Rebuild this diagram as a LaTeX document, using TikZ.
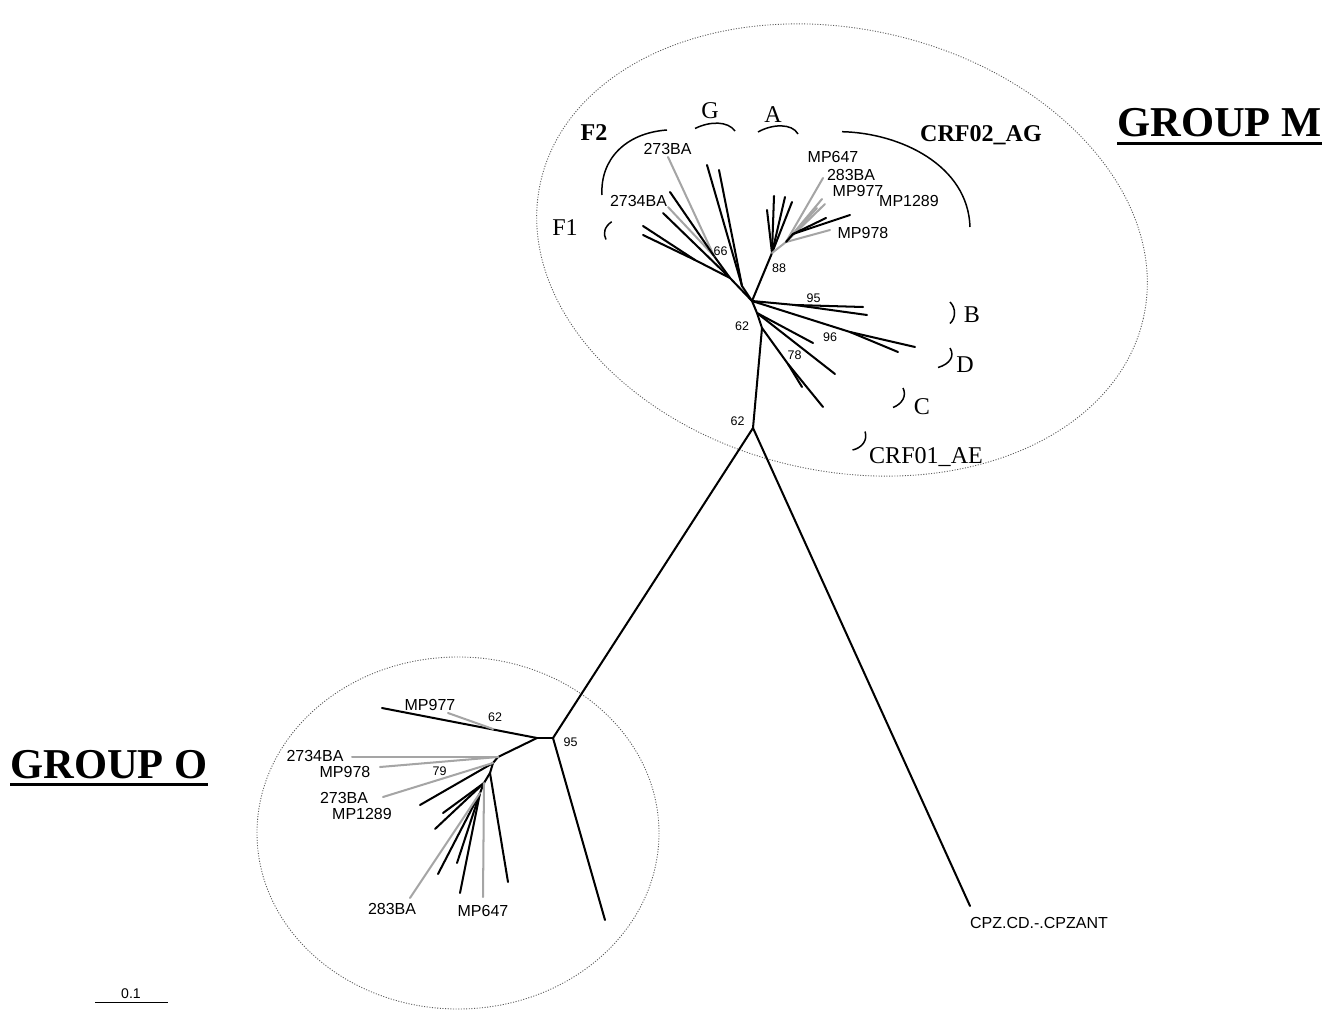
\documentclass[tikz,border=0pt]{standalone}
\usepackage{fontspec}
\setmainfont{Liberation Serif}
\setsansfont{Liberation Sans}
\definecolor{lgray}{RGB}{165,165,165}
\definecolor{ovalc}{RGB}{90,90,90}
\begin{document}
\begin{tikzpicture}[x=0.02cm,y=-0.02cm,
  br/.style={line width=1.15pt, line cap=round},
  gb/.style={line width=1.15pt, draw=lgray, line cap=round},
  brk/.style={line width=0.85pt},
  lab/.style={font=\sffamily\fontsize{9.1}{10}\selectfont, inner sep=0pt, text height=6.5pt, text depth=0pt},
  num/.style={font=\sffamily\fontsize{7.1}{8}\selectfont, inner sep=0pt, text height=5.1pt, text depth=0pt},
  clade/.style={font=\fontsize{13.7}{15}\selectfont, inner sep=0pt, text height=9.05pt, text depth=0pt},
  bclade/.style={font=\bfseries\fontsize{13.7}{15}\selectfont, inner sep=0pt, text height=9.2pt, text depth=0pt},
  grp/.style={font=\bfseries\fontsize{24.2}{28}\selectfont, inner sep=0pt, text height=16pt, text depth=0pt},
  oval/.style={draw=ovalc, line width=0.5pt, dash pattern=on 0.6pt off 0.9pt}
]
\useasboundingbox (0,0) rectangle (1335,1010);

% ---------------- ellipses ----------------
\draw[oval, rotate around={-12.75:(842,250)}] (842,250) ellipse [x radius=309, y radius=221];
\draw[oval] (458,833) ellipse [x radius=201, y radius=176];

% ---------------- backbone ----------------
\coordinate (J1) at (753,428);
\coordinate (N62) at (762,328);
\coordinate (NA) at (757,313);
\coordinate (H) at (752,301);
\coordinate (R1) at (553,738);
\coordinate (tCPZ) at (970,906);
\draw[br] (J1) -- (R1);
\draw[br] (J1) -- (tCPZ);
\draw[br] (J1) -- (N62);
\draw[br] (N62) -- (NA);
\draw[br] (NA) -- (H);

% ---------------- group M, lower clades ----------------
\coordinate (N78) at (788,364);
\coordinate (t78a) at (802,387);
\coordinate (t78b) at (823,407);
\draw[br] (N62) -- (N78);
\draw[br] (N78) -- (t78a);
\draw[br] (N78) -- (t78b);
\coordinate (tAa) at (813,343);
\coordinate (tAb) at (835,374);
\draw[br] (NA) -- (tAa);
\draw[br] (NA) -- (tAb);
\coordinate (N95) at (795,305);
\coordinate (t95a) at (863,307);
\coordinate (t95b) at (867,315);
\draw[br] (H) -- (N95);
\draw[br] (N95) -- (t95a);
\draw[br] (N95) -- (t95b);
\coordinate (N96) at (850,332);
\coordinate (t96a) at (915,347);
\coordinate (t96b) at (898,352);
\draw[br] (H) -- (N96);
\draw[br] (N96) -- (t96a);
\draw[br] (N96) -- (t96b);

% ---------------- group M, A / CRF02_AG clade ----------------
\coordinate (N88) at (772,253);
\coordinate (G1) at (786,242);
\coordinate (B1) at (793,234);
\draw[br] (H) -- (N88);
\coordinate (a1) at (767,210);
\coordinate (a2) at (774,196);
\coordinate (a3) at (785,197);
\coordinate (a4) at (792,202);
\draw[br] (N88) -- (a1);
\draw[br] (N88) -- (a2);
\draw[br] (N88) -- (a3);
\draw[br] (N88) -- (a4);
\draw[gb] (N88) -- (G1);
\coordinate (g1) at (823,178);
\coordinate (g2) at (822,199);
\coordinate (g3) at (825,204);
\coordinate (g4) at (830,230);
\coordinate (g5) at (817,208);
\draw[gb] (G1) -- (g1);
\draw[gb] (G1) -- (g2);
\draw[gb] (G1) -- (g3);
\draw[gb] (G1) -- (g4);
\draw[gb] (G1) -- (g5);
\draw[br] (G1) -- (B1);
\coordinate (b1) at (850,215);
\coordinate (b2) at (826,218);
\draw[br] (B1) -- (b1);
\draw[br] (B1) -- (b2);

% ---------------- group M, F / G clades ----------------
\coordinate (NG) at (742,286);
\coordinate (tGa) at (707,165);
\coordinate (tGb) at (719,170);
\draw[br] (H) -- (NG);
\draw[br] (NG) -- (tGa);
\draw[br] (NG) -- (tGb);
\coordinate (NF) at (730,278);
\coordinate (NF1) at (695,260);
\coordinate (tF1a) at (643,226);
\coordinate (tF1b) at (643,235);
\draw[br] (H) -- (NF);
\draw[br] (NF) -- (NF1);
\draw[br] (NF1) -- (tF1a);
\draw[br] (NF1) -- (tF1b);
\coordinate (N66) at (714,256);
\coordinate (tF2a) at (668,157);
\coordinate (tF2b) at (668,207);
\coordinate (tF2c) at (670,192);
\coordinate (tF2d) at (663,213);
\draw[br] (NF) -- (N66);
\draw[gb] (N66) -- (tF2a);
\draw[gb] (N66) -- (tF2b);
\draw[br] (N66) -- (tF2c);
\draw[br] (NF) -- (tF2d);

% ---------------- group O ----------------
\coordinate (R2) at (537,738);
\coordinate (tO) at (605,920);
\draw[br] (R1) -- (R2);
\draw[br] (R1) -- (tO);
\coordinate (t977) at (382,708);
\coordinate (m977) at (493,729);
\coordinate (g977) at (448,713);
\draw[br] (R2) -- (t977);
\draw[gb] (m977) -- (g977);
\coordinate (R3) at (498,757);
\coordinate (R4) at (493,763);
\coordinate (R5) at (490,773);
\coordinate (R6) at (484,783);
\coordinate (R7) at (480,793);
\draw[br] (R2) -- (R3);
\draw[br] (R3) -- (R4);
\draw[br] (R4) -- (R5);
\draw[br] (R5) -- (R6);
\draw[br] (R6) -- (R7);
\coordinate (o2734) at (352,757);
\coordinate (o978) at (380,767);
\draw[gb] (R3) -- (o2734);
\draw[gb] (R3) -- (o978);
\coordinate (oB1) at (420,805);
\coordinate (o273) at (383,797);
\draw[br] (R4) -- (oB1);
\draw[gb] (R4) -- (o273);
\coordinate (oB2) at (508,882);
\draw[br] (R5) -- (oB2);
\coordinate (oB3) at (443,813);
\coordinate (oB4) at (435,829);
\coordinate (o647) at (483,897);
\draw[br] (R6) -- (oB3);
\draw[br] (R6) -- (oB4);
\draw[gb] (R6) -- (o647);
\coordinate (oB5) at (438,874);
\coordinate (oB6) at (457,863);
\coordinate (oB7) at (460,893);
\coordinate (o283) at (410,898);
\draw[br] (R7) -- (oB5);
\draw[br] (R7) -- (oB6);
\draw[br] (R7) -- (oB7);
\draw[gb] (R7) -- (o283);

% ---------------- brackets ----------------
\draw[brk] (602,195) .. controls (600,160) and (625,133) .. (667,130);
\draw[brk] (695,128.5) .. controls (710,121) and (728,121) .. (735,131);
\draw[brk] (758,132) .. controls (772,124) and (792,123) .. (798,134);
\draw[brk] (842,131.7) .. controls (900,133) and (968,165) .. (970,227);
\draw[brk] (611.7,221.7) .. controls (604,227) and (603,234) .. (606,239.5);
\draw[brk] (950,302) .. controls (956,308) and (956,318) .. (950,323.5);
\draw[brk] (950,348) .. controls (955,356) and (950,364) .. (938,367.5);
\draw[brk] (903,388) .. controls (907,396) and (902,404) .. (893,407.5);
\draw[brk] (865,431.5) .. controls (868,440) and (862,448) .. (852.5,450);

% ---------------- clade labels ----------------
\node[bclade] (lF2) at (594,132) {F2};
\node[clade] (lG) at (710,111) {G};
\node[clade] (lA) at (773,115) {A};
\node[bclade] (lAG) at (981,133) {CRF02\_AG};
\node[clade] (lF1) at (565,228) {F1};
\node[clade] (lB) at (972,315) {B};
\node[clade] (lD) at (965,365) {D};
\node[clade] (lC) at (922,407) {C};
\node[clade] (lAE) at (926,456) {CRF01\_AE};

% ---------------- strain labels, group M ----------------
\node[lab] (m273) at (667.5,149) {273BA};
\node[lab] (m2734) at (638.5,201) {2734BA};
\node[lab] (m647) at (833,157) {MP647};
\node[lab] (m283) at (851,175) {283BA};
\node[lab] (m977) at (858,191) {MP977};
\node[lab] (m1289) at (909,201) {MP1289};
\node[lab] (m978) at (863,233) {MP978};

% ---------------- bootstrap values ----------------
\node[num] (v66) at (720.5,251.5) {66};
\node[num] (v88) at (779,268) {88};
\node[num] (v95) at (813.5,298.5) {95};
\node[num] (v62a) at (742,326.5) {62};
\node[num] (v96) at (830,337) {96};
\node[num] (v78) at (794.5,355.5) {78};
\node[num] (v62b) at (737.5,421) {62};
\node[num] (v62o) at (495,717.5) {62};
\node[num] (v95o) at (570.5,742) {95};
\node[num] (v79) at (439.5,771.5) {79};

% ---------------- strain labels, group O ----------------
\node[lab] (p977) at (430,705) {MP977};
\node[lab] (p2734) at (315,756) {2734BA};
\node[lab] (p978) at (345,771.5) {MP978};
\node[lab] (p273) at (344,798) {273BA};
\node[lab] (p1289) at (362,814) {MP1289};
\node[lab] (p283) at (392,909) {283BA};
\node[lab] (p647) at (483,911) {MP647};
\node[lab] (cpz) at (1039,923) {CPZ.CD.-.CPZANT};

% ---------------- group titles ----------------
\node[grp, anchor=base west] (gM) at (1117,137) {GROUP M};
\draw[line width=1.7pt] ([yshift=-3.6pt]gM.base west) -- ([yshift=-3.6pt]gM.base east);
\node[grp, anchor=base west] (gO) at (10,778) {GROUP O};
\draw[line width=1.7pt] ([yshift=-3.6pt]gO.base west) -- ([yshift=-3.6pt]gO.base east);

% ---------------- scale bar ----------------
\coordinate (sb1) at (95,1002.5);
\coordinate (sb2) at (168,1002.5);
\draw[line width=0.9pt] (sb1) -- (sb2);
\node[num, font=\sffamily\fontsize{8}{9}\selectfont, text height=5.7pt] (sbl) at (131,993.5) {0.1};
\end{tikzpicture}
\end{document}
